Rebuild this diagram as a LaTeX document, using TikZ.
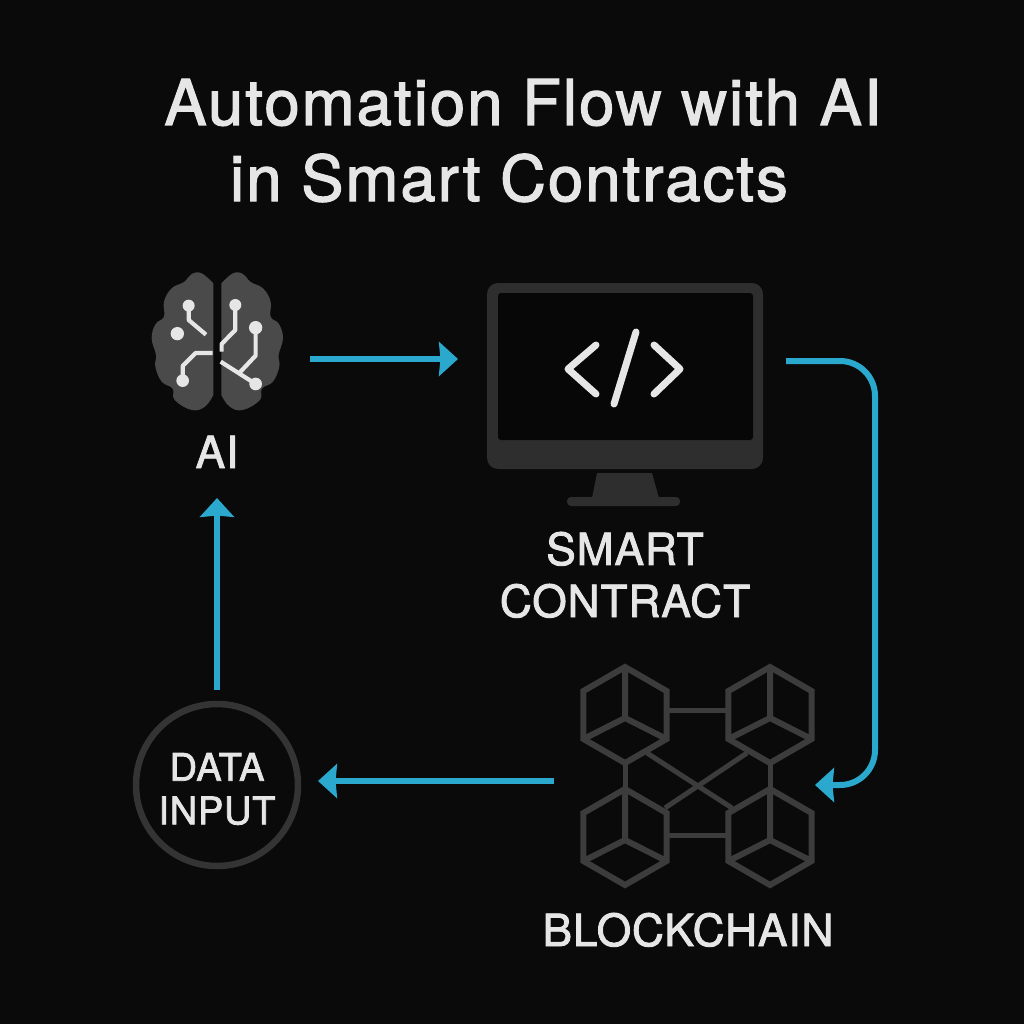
\documentclass[tikz,border=0pt]{standalone}
\usepackage{fontspec}
\setmainfont[FakeBold=2, LetterSpace=2]{TeX Gyre Heros}
\newfontfamily\titlefont[FakeBold=2, LetterSpace=3.4]{TeX Gyre Heros}
\usetikzlibrary{shapes.geometric, arrows.meta, positioning}
\definecolor{bgdark}{HTML}{0A0A0A}
\definecolor{screendark}{HTML}{070707}
\definecolor{inkwhite}{HTML}{E6E6E6}
\definecolor{flowblue}{HTML}{2BA8CE}
\definecolor{cubegray}{HTML}{3C3C3C}
\definecolor{ringgray}{HTML}{343434}
\definecolor{screengray}{HTML}{2E2E2E}
\definecolor{braingray}{HTML}{4A4A4A}
\begin{document}
\begin{tikzpicture}[
      x=0.1mm, y=-0.1mm,
      title/.style={anchor=base, text=inkwhite, font=\titlefont\fontsize{18}{20}\selectfont},
      label/.style={anchor=base, text=inkwhite, align=center, font=\fontsize{12.6}{14.8}\selectfont},
      flow/.style={draw=flowblue, line width=0.6mm, -{Stealth[length=1.9mm, width=3.4mm, inset=0.15mm]}},
      cube/.style={regular polygon, regular polygon sides=6, shape border rotate=-30, draw=cubegray,
                   line width=0.6mm, minimum size=9.6mm, inner sep=0pt, outer sep=0pt},
      link/.style={draw=cubegray, line width=0.5mm},
      trace/.style={draw=inkwhite, line width=0.42mm, line join=round},
      glyph/.style={draw=inkwhite, line width=0.7mm, line cap=round, line join=round},
    ]
    \fill[bgdark] (0,0) rectangle (1024,1024);
    \node[title] (title) at (523,125) {Automation Flow with AI};
    \node[title] (titlesub) at (509,201) {in Smart Contracts};

    % brain
    \begin{scope}[shift={(130,260)}, x=0.03333mm, y=-0.03333mm]
      \foreach \side in {1,-1}
        \fill[braingray, shift={(262,0)}, xscale=\side]
          plot[smooth, tension=0.7] coordinates {(-12,70) (-47,40) (-77,42) (-100,66) (-137,85) (-160,125)
            (-160,170) (-185,192) (-197,235) (-184,285) (-186,320) (-167,365) (-134,386) (-128,420)
            (-77,450) (-37,440) (-12,405)} -- cycle;
      \draw[trace] (176,137) -- (176,180) -- (228,224);
      \draw[trace] (248,279) -- (197,279) -- (158,318) -- (158,362);
      \draw[trace] (316,135) -- (316,210) -- (275,252) -- (275,275);
      \draw[trace] (377,203) -- (377,287) -- (327,340);
      \draw[trace] (272,305) -- (377,372);
      \foreach \cx/\cy/\r in {176/137/18, 142/221/20, 158/362/19, 316/135/18, 377/203/20, 377/372/19}
        \fill[inkwhite] (\cx,\cy) circle[radius=\r];
    \end{scope}
    \node[label] (ailabel) at (217,468) {AI};

    % monitor
    \fill[screengray, rounded corners=1.1mm] (487,283) rectangle (763,469);
    \fill[screendark, rounded corners=0.3mm] (498,293) rectangle (753,440);
    \fill[screengray] (597,473) -- (652,473) -- (659,498) -- (592,498) -- cycle;
    \fill[screengray, rounded corners=0.4mm] (567,497) rectangle (680,506);
    \draw[glyph] (596,345) -- (568,369) -- (596,394);
    \draw[glyph] (636,332) -- (614,404);
    \draw[glyph] (654,345) -- (680,369) -- (654,394);
    \node[label] (contractlabel) at (625,617) {SMART\\CONTRACT};

    % blockchain
    \node[cube] (cubeA) at (625,715) {};
    \node[cube] (cubeB) at (770,715) {};
    \node[cube] (cubeC) at (625,837) {};
    \node[cube] (cubeD) at (770,837) {};
    \foreach \n in {cubeA,cubeB,cubeC,cubeD} {
      \draw[link, line width=0.6mm] (\n.corner 2) -- ([yshift=-0.3mm]\n.center) -- (\n.corner 6);
      \draw[link, line width=0.6mm] ([yshift=-0.3mm]\n.center) -- (\n.corner 4);
    }
    \coordinate (crossA) at (647,753);
    \coordinate (crossB) at (747,753);
    \coordinate (crossC) at (665,808);
    \coordinate (crossD) at (732,808);
    \draw[link] (crossA) -- (crossD);
    \draw[link] (crossB) -- (crossC);
    \draw[link] ([yshift=0.5mm]cubeA.east) -- ([yshift=0.5mm]cubeB.west);
    \draw[link] ([yshift=0.2mm]cubeC.east) -- ([yshift=0.2mm]cubeD.west);
    \draw[link] (cubeA.south) -- (cubeC.north);
    \draw[link] (cubeB.south) -- (cubeD.north);
    \node[label] (chainlabel) at (688,946) {BLOCKCHAIN};

    % data input
    \node[circle, draw=ringgray, line width=0.65mm, minimum size=16.2mm, inner sep=0pt] (datainput) at (217,785) {};
    \node[text=inkwhite, align=center, font=\fontsize{10.8}{12.4}\selectfont] (datalabel) at (217,789) {DATA\\INPUT};

    % arrows
    \coordinate (aiout) at (310,359);
    \coordinate (contractin) at (458,359);
    \coordinate (contractout) at (786,361);
    \coordinate (bendtop) at (875,361);
    \coordinate (bendlow) at (875,785);
    \coordinate (chainin) at (815,785);
    \coordinate (chainout) at (554,781);
    \coordinate (datain) at (318,781);
    \coordinate (dataout) at (217,690);
    \coordinate (aiin) at (217,498);
    \draw[flow] (aiout) -- (contractin);
    \draw[flow, rounded corners=3.5mm] (contractout) -- (bendtop) -- (bendlow) -- (chainin);
    \draw[flow] (chainout) -- (datain);
    \draw[flow] (dataout) -- (aiin);
  \end{tikzpicture}
\end{document}
